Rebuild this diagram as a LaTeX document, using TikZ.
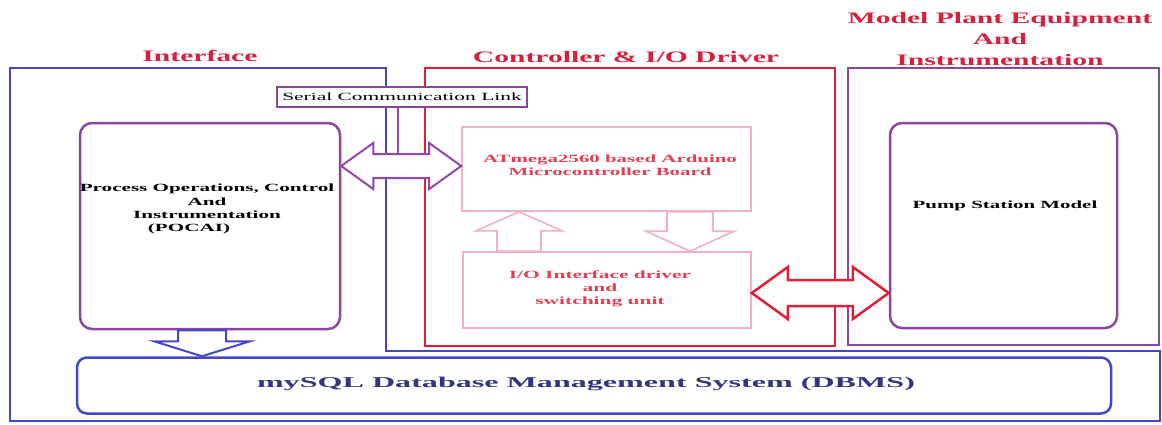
\documentclass[tikz,border=0pt]{standalone}
\usepackage{fontspec}
\setmainfont{Liberation Serif}
\usepackage{graphicx}
\usetikzlibrary{calc}

% horizontally widened text
\newcommand\sx[2]{\scalebox{#1}[1]{#2}}

\definecolor{ifaceblue}{RGB}{68,72,200}
\definecolor{ctrlred}{RGB}{226,30,52}
\definecolor{plantpurple}{RGB}{140,70,160}
\definecolor{arrowpurple}{RGB}{150,70,170}
\definecolor{lightpink}{RGB}{242,176,196}
\definecolor{titlered}{RGB}{214,32,62}
\definecolor{textpink}{RGB}{226,62,84}
\definecolor{dbnavy}{RGB}{52,52,128}

% hollow double-headed horizontal arrow: style, left tip, right tip,
% shaft half-height, head half-height, head length
\newcommand\fatdouble[6]{%
  \draw[#1] let \p1=#2, \p2=#3 in
    (\x1,\y1) -- ({\x1+#6},{\y1+#5}) -- ({\x1+#6},{\y1+#4})
    -- ({\x2-#6},{\y1+#4}) -- ({\x2-#6},{\y1+#5}) -- (\x2,\y1)
    -- ({\x2-#6},{\y1-#5}) -- ({\x2-#6},{\y1-#4})
    -- ({\x1+#6},{\y1-#4}) -- ({\x1+#6},{\y1-#5}) -- cycle;}

% hollow vertical arrow: style, tail, tip, shaft half-width,
% head half-width, head length
\newcommand\fatvert[6]{%
  \draw[#1] let \p1=#2, \p2=#3, \n1={(\y1-\y2)/abs(\y1-\y2)} in
    (\x2,\y2) -- ({\x2+#5},{\y2+(\n1)*#6}) -- ({\x2+#4},{\y2+(\n1)*#6})
    -- ({\x2+#4},\y1) -- ({\x2-#4},\y1) -- ({\x2-#4},{\y2+(\n1)*#6})
    -- ({\x2-#5},{\y2+(\n1)*#6}) -- cycle;}

\tikzset{
  frame/.style={draw, line width=2.5pt, rectangle, inner sep=0pt},
  panel/.style={draw, rounded corners=12pt, line width=2.5pt, inner sep=0pt, fill=white},
  lightbox/.style={draw=lightpink, line width=1.6pt, inner sep=0pt, fill=white},
  title/.style={text=titlered, font=\fontsize{16}{21}\selectfont\bfseries, align=center, inner sep=0pt},
  bodytext/.style={font=\fontsize{11}{13.3}\selectfont\bfseries, align=center, inner sep=0pt},
  fatarrow/.style={line width=2pt, fill=white, line join=miter, miter limit=10},
}

\begin{document}
\begin{tikzpicture}[x=1pt,y=-1pt]
\useasboundingbox (0,0) rectangle (1162,424);
\fill[white] (0,0) rectangle (1162,424);

% interface frame (wraps under the controller and plant frames)
\draw[ifaceblue, line width=2.5pt] (10,68) -- (386,68) -- (386,351) -- (1160,351)
  -- (1160,421) -- (10,421) -- cycle;

% controller and plant frames
\node[frame, draw=ctrlred, minimum width=410pt, minimum height=278pt] (ctrl) at (630,207) {};
\node[frame, draw=plantpurple, minimum width=311pt, minimum height=277pt] (plant) at (1003.5,206.5) {};

% serial link label
\node[draw=plantpurple, line width=2pt, fill=white, minimum width=250pt, minimum height=20pt,
      inner sep=0pt, font=\fontsize{11}{13}\selectfont] (serial) at (402,97)
      {\sx{1.95}{Serial Communication Link}};

% inner blocks
\node[panel, draw=plantpurple, minimum width=260pt, minimum height=206pt] (pocai) at (210,226) {};
\node[panel, draw=plantpurple, minimum width=227pt, minimum height=205pt] (pump) at (1003.5,225.5) {};
\node[panel, draw=ifaceblue, rounded corners=10pt, minimum width=1034pt, minimum height=56pt] (dbms) at (594,385.5) {};
\node[lightbox, minimum width=289pt, minimum height=84pt] (atm) at (606.5,169) {};
\node[lightbox, minimum width=288pt, minimum height=76pt] (io) at (607,290) {};

% serial link tap onto the communication arrow
\coordinate (tap) at (398,155);
\draw[arrowpurple, line width=2pt] (serial.south -| tap) -- (tap);

% connectors
\fatdouble{fatarrow, draw=arrowpurple}{(pocai.east |- 0,166)}{(atm.west |- 0,166)}{12pt}{23pt}{32pt}
\fatdouble{fatarrow, draw=ctrlred, line width=2.5pt}{(io.east |- 0,293)}{(pump.west |- 0,293)}{13pt}{26pt}{36pt}
\fatvert{fatarrow, draw=ifaceblue}{(pocai.south -| 202,0)}{(dbms.north -| 202,0)}{24pt}{48pt}{15pt}
\fatvert{fatarrow, draw=lightpink, line width=1.6pt}{(io.north -| 519,0)}{(atm.south -| 519,0)}{22pt}{43pt}{19pt}
\fatvert{fatarrow, draw=lightpink, line width=1.6pt}{(atm.south -| 690,0)}{(io.north -| 690,0)}{23pt}{44pt}{20pt}

% titles
\node[title] (t1) at (200,56) {\sx{1.85}{Interface}};
\node[title] (t2) at (626,57) {\sx{1.85}{Controller \& I/O Driver}};
\node[title] (t3) at (1000,39) {\sx{1.85}{Model Plant Equipment}\\ \sx{1.85}{And}\\ \sx{1.85}{Instrumentation}};

% block texts
\node[bodytext] (pocaitext) at (207,209)
  {\sx{1.92}{Process Operations, Control}\\ \sx{1.92}{And}\\ \sx{1.92}{Instrumentation}\\ \sx{1.92}{(POCAI)}\hspace*{36pt}};
\node[bodytext] (pumptext) at (1005,206) {\sx{1.9}{Pump Station Model}};
\node[bodytext, text=textpink, font=\fontsize{11}{12.5}\selectfont\bfseries] (atmtext) at (610,165)
  {\sx{1.9}{ATmega2560 based Arduino}\\ \sx{1.9}{Microcontroller Board}};
\node[bodytext, text=textpink] (iotext) at (600,289)
  {\sx{1.95}{I/O Interface driver}\\ \sx{1.95}{and}\\ \sx{1.95}{switching unit}};
\node[font=\fontsize{15}{18}\selectfont\bfseries, text=dbnavy, inner sep=0pt] (dbmstext) at (586,384)
  {\sx{2.14}{mySQL Database Management System (DBMS)}};
\end{tikzpicture}
\end{document}
